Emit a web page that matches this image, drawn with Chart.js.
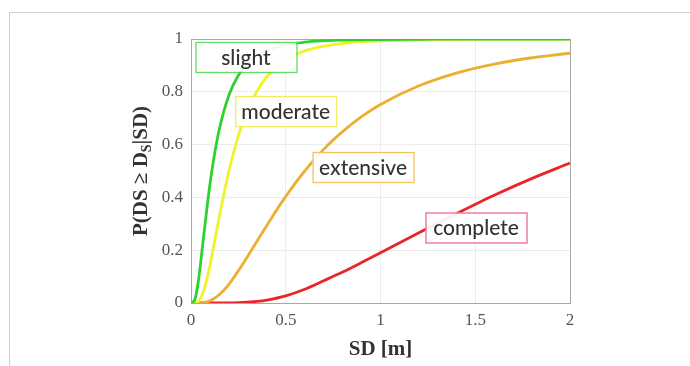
<!DOCTYPE html>
<html>
<head>
<meta charset="utf-8">
<script src="https://cdn.jsdelivr.net/npm/chart.js@4"></script>
<style>
  html, body { margin: 0; padding: 0; background: #fff; }
  #wrap { position: relative; width: 690px; height: 366px; overflow: hidden; }
  #frame { position: absolute; left: 9px; top: 12px; width: 700px; height: 400px;
           border-left: 1px solid #cfcfcf; border-top: 1px solid #cfcfcf; }
  canvas { position: absolute; left: 0; top: 0; }
</style>
</head>
<body>
<div id="wrap">
  <div id="frame"></div>
  <canvas id="fragility" width="690" height="366"></canvas>
</div>
<script>
// SD [m] sample points
const sdValues = [0, 0.02, 0.04, 0.06, 0.08, 0.1, 0.12, 0.15, 0.2, 0.25, 0.3, 0.35, 0.4,
                  0.5, 0.6, 0.7, 0.8, 0.9, 1.0, 1.2, 1.4, 1.6, 1.8, 2.0];

// P(DS >= Ds | SD) for each damage state
const slight    = [0, 0.012, 0.089, 0.21, 0.335, 0.45, 0.546, 0.66, 0.787, 0.863, 0.909, 0.939, 0.957,
                   0.978, 0.988, 0.993, 0.996, 0.997, 0.998, 0.999, 1, 1, 1, 1];
const moderate  = [0, 0.0002, 0.007, 0.032, 0.079, 0.143, 0.216, 0.329, 0.5, 0.634, 0.734, 0.805, 0.857,
                   0.921, 0.955, 0.973, 0.983, 0.99, 0.993, 0.997, 0.999, 1, 1, 1];
const extensive = [0, 0, 0.0001, 0.001, 0.0036, 0.0084, 0.016, 0.032, 0.071, 0.122, 0.178, 0.236, 0.294,
                   0.404, 0.5, 0.582, 0.649, 0.706, 0.752, 0.822, 0.871, 0.905, 0.929, 0.946];
const complete  = [0, 0, 0, 0, 0, 0, 0, 0, 0, 0.001, 0.003, 0.006, 0.011,
                   0.027, 0.052, 0.084, 0.117, 0.153, 0.19, 0.265, 0.338, 0.408, 0.472, 0.53];

const seriesNames = ["slight", "moderate", "extensive", "complete"];
const seriesColors = ["#2fd12f", "#f2f22a", "#ebb031", "#e8262a"];
const boxColors = ["rgba(70,215,70,0.85)", "rgba(238,232,70,0.85)", "rgba(238,185,70,0.85)", "rgba(232,80,115,0.85)"];
// where each damage-state label sits, in data units (SD, P)
const labelSD = [0.29, 0.50, 0.908, 1.504];
const labelP  = [0.932, 0.727, 0.515, 0.286];

const xTicks = [0, 0.5, 1, 1.5, 2];
const yTicks = [0, 0.2, 0.4, 0.6, 0.8, 1];

const serifFont = "'Liberation Serif', 'DejaVu Serif', serif";

const allSeries = [slight, moderate, extensive, complete];
const datasets = allSeries.map((vals, i) => ({
    label: seriesNames[i],
    data: sdValues.map((sd, j) => ({ x: sd, y: vals[j] })),
    borderColor: seriesColors[i],
    borderWidth: 2.8,
    pointRadius: 0,
    fill: false,
    cubicInterpolationMode: "monotone"
}));

// box round the plot + axis titles + damage state labels
const decorations = {
    id: "decorations",
    beforeDatasetsDraw(chart) {
        const { ctx, chartArea } = chart;
        ctx.save();
        ctx.strokeStyle = "#a8a8a8";
        ctx.lineWidth = 1;
        ctx.strokeRect(chartArea.left + 0.5, chartArea.top + 0.5,
                       chartArea.right - chartArea.left, chartArea.bottom - chartArea.top);
        ctx.restore();
    },
    afterDatasetsDraw(chart) {
        const { ctx, scales } = chart;
        ctx.save();

        // x title
        ctx.fillStyle = "#333";
        ctx.font = "bold 21px " + serifFont;
        ctx.textAlign = "center";
        ctx.textBaseline = "middle";
        ctx.fillText("SD [m]", (scales.x.left + scales.x.right) / 2, 350);

        // y title with subscript S
        const parts = [["P(DS \u2265 D", "bold 21px "], ["S", "bold 14px "], ["|SD)", "bold 21px "]];
        ctx.translate(142, (scales.y.top + scales.y.bottom) / 2);
        ctx.rotate(-Math.PI / 2);
        let total = 0;
        parts.forEach(p => { ctx.font = p[1] + serifFont; total += ctx.measureText(p[0]).width; });
        let pos = -total / 2;
        ctx.textAlign = "left";
        parts.forEach((p, k) => {
            ctx.font = p[1] + serifFont;
            ctx.fillText(p[0], pos, k === 1 ? 5 : 0);
            pos += ctx.measureText(p[0]).width;
        });
        ctx.setTransform(1, 0, 0, 1, 0, 0);

        // damage state labels
        ctx.font = "500 21px Lato, 'Open Sans', sans-serif";
        ctx.textAlign = "center";
        seriesNames.forEach((name, i) => {
            const cx = scales.x.getPixelForValue(labelSD[i]);
            const cy = scales.y.getPixelForValue(labelP[i]);
            const w = 101, h = 30;
            ctx.fillStyle = "rgba(255,255,255,0.92)";
            ctx.fillRect(cx - w / 2, cy - h / 2, w, h);
            ctx.strokeStyle = boxColors[i];
            ctx.lineWidth = 1.3;
            ctx.strokeRect(cx - w / 2 + 0.5, cy - h / 2 + 0.5, w, h);
            ctx.fillStyle = "#333";
            ctx.fillText(name, cx, cy + 1);
        });
        ctx.restore();
    }
};

new Chart(document.getElementById("fragility"), {
    type: "line",
    data: { datasets: datasets },
    options: {
        responsive: false,
        animation: false,
        layout: { padding: { left: 0, right: 120, top: 39, bottom: 0 } },
        plugins: { legend: { display: false }, tooltip: { enabled: false } },
        scales: {
            x: {
                type: "linear",
                min: 0,
                max: 2,
                afterFit(scale) { scale.height = 63; },
                afterBuildTicks(scale) { scale.ticks = xTicks.map(v => ({ value: v })); },
                ticks: {
                    padding: 7,
                    color: "#555",
                    font: { family: serifFont, size: 17 },
                    callback: v => String(v)
                },
                grid: { color: "#ececec", drawTicks: false },
                border: { color: "#a8a8a8" }
            },
            y: {
                min: 0,
                max: 1,
                afterFit(scale) { scale.width = 191; },
                afterBuildTicks(scale) { scale.ticks = yTicks.map(v => ({ value: v })); },
                ticks: {
                    padding: 8,
                    color: "#555",
                    font: { family: serifFont, size: 17 },
                    callback: v => String(v)
                },
                grid: { color: "#ececec", drawTicks: false },
                border: { color: "#a8a8a8" }
            }
        }
    },
    plugins: [decorations]
});
</script>
</body>
</html>
